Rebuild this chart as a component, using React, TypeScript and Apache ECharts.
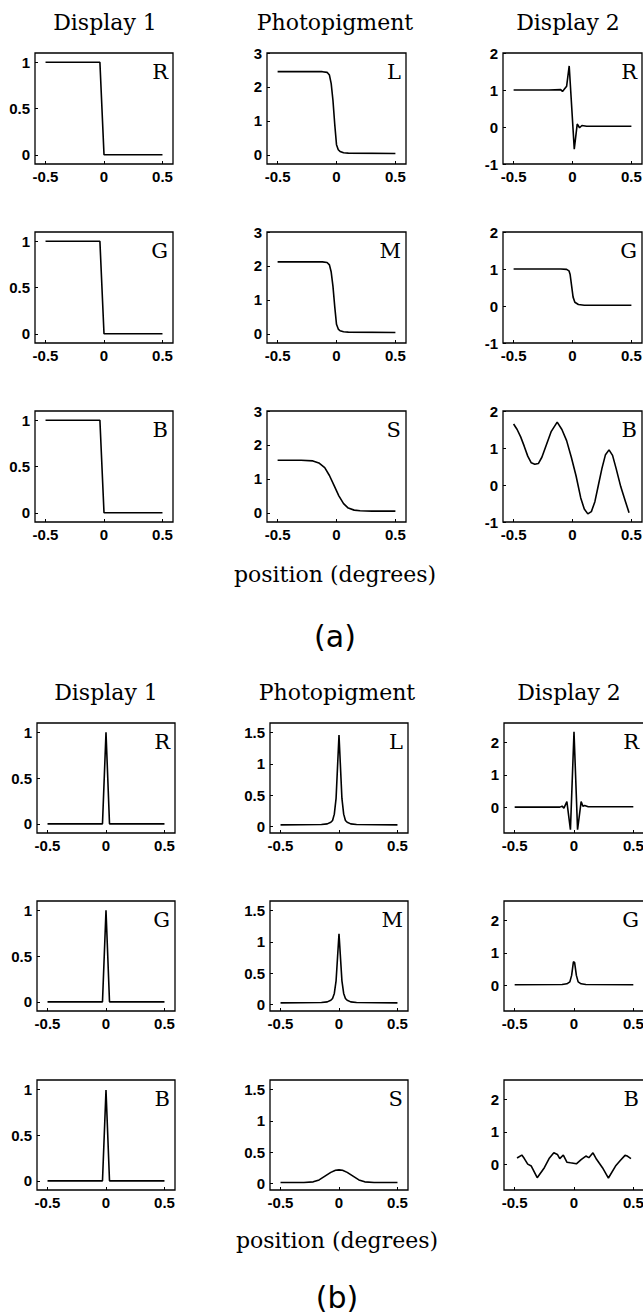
import React, { useEffect, useRef } from "react";
import * as echarts from "echarts";

type Pt = [number, number];

// ---------------- texts ----------------
const columnTitles = ["Display 1", "Photopigment", "Display 2"];
const rowLetters = [
  ["R", "L", "R"],
  ["G", "M", "G"],
  ["B", "S", "B"],
];
const xAxisCaption = "position (degrees)";
const partCaptions = ["(a)", "(b)"];

// ---------------- ticks & ranges ----------------
const xTickValues = [-0.5, 0, 0.5];
const xRange = [-0.59, 0.59];
const yTicksA = [
  [0, 0.5, 1],
  [0, 1, 2, 3],
  [-1, 0, 1, 2],
];
const yTicksB = [
  [0, 0.5, 1],
  [0, 0.5, 1, 1.5],
  [0, 1, 2],
];
const yRangesA = [
  [-0.1, 1.1],
  [-0.27, 3],
  [-1, 2],
];
const yRangesB = [
  [-0.1, 1.1],
  [-0.1, 1.65],
  [-0.8, 2.6],
];

// ---------------- (a) edge responses ----------------
const aDisplay1R: Pt[] = [[-0.5, 1], [-0.035, 1], [0, 0], [0.5, 0]];
const aDisplay1G: Pt[] = [[-0.5, 1], [-0.035, 1], [0, 0], [0.5, 0]];
const aDisplay1B: Pt[] = [[-0.5, 1], [-0.035, 1], [0, 0], [0.5, 0]];

const aPhotoL: Pt[] = [
  [-0.5, 2.45], [-0.12, 2.45], [-0.08, 2.43], [-0.06, 2.35], [-0.045, 2.1],
  [-0.03, 1.6], [-0.015, 0.9], [0, 0.3], [0.015, 0.15], [0.03, 0.1],
  [0.06, 0.06], [0.1, 0.05], [0.5, 0.04],
];
const aPhotoM: Pt[] = [
  [-0.5, 2.12], [-0.12, 2.12], [-0.08, 2.1], [-0.06, 2.03], [-0.045, 1.82],
  [-0.03, 1.4], [-0.015, 0.8], [0, 0.28], [0.015, 0.14], [0.03, 0.09],
  [0.06, 0.06], [0.1, 0.05], [0.5, 0.04],
];
const aPhotoS: Pt[] = [
  [-0.5, 1.55], [-0.3, 1.55], [-0.2, 1.53], [-0.15, 1.47], [-0.1, 1.33],
  [-0.06, 1.1], [-0.02, 0.8], [0.02, 0.5], [0.06, 0.27], [0.1, 0.14],
  [0.15, 0.08], [0.2, 0.06], [0.3, 0.05], [0.5, 0.05],
];

const aDisplay2R: Pt[] = [
  [-0.5, 1], [-0.2, 1], [-0.1, 1.01], [-0.085, 0.96], [-0.07, 1.02],
  [-0.05, 1.1], [-0.028, 1.65], [0.015, -0.6], [0.04, 0.08], [0.06, -0.02],
  [0.08, 0.04], [0.12, 0.02], [0.5, 0.02],
];
const aDisplay2G: Pt[] = [
  [-0.5, 1], [-0.1, 1], [-0.05, 0.99], [-0.03, 0.95], [-0.02, 0.85],
  [0.005, 0.24], [0.02, 0.1], [0.05, 0.04], [0.1, 0.02], [0.5, 0.02],
];
const aDisplay2B: Pt[] = [
  [-0.5, 1.65], [-0.47, 1.5], [-0.44, 1.3], [-0.41, 1.05], [-0.38, 0.78],
  [-0.35, 0.6], [-0.32, 0.56], [-0.29, 0.58], [-0.26, 0.75], [-0.22, 1.1],
  [-0.18, 1.45], [-0.13, 1.7], [-0.09, 1.5], [-0.05, 1.2], [-0.01, 0.75],
  [0.03, 0.25], [0.07, -0.35], [0.1, -0.65], [0.13, -0.78], [0.16, -0.72],
  [0.19, -0.45], [0.22, 0.0], [0.25, 0.45], [0.28, 0.82], [0.31, 0.95],
  [0.34, 0.8], [0.37, 0.45], [0.41, -0.05], [0.45, -0.45], [0.48, -0.75],
];

// ---------------- (b) line responses ----------------
const bDisplay1R: Pt[] = [[-0.5, 0], [-0.03, 0], [0, 1], [0.03, 0], [0.5, 0]];
const bDisplay1G: Pt[] = [[-0.5, 0], [-0.03, 0], [0, 1], [0.03, 0], [0.5, 0]];
const bDisplay1B: Pt[] = [[-0.5, 0], [-0.03, 0], [0, 0.99], [0.03, 0], [0.5, 0]];

const bPhotoL: Pt[] = [
  [-0.5, 0.03], [-0.15, 0.035], [-0.1, 0.045], [-0.07, 0.07], [-0.055, 0.1],
  [-0.04, 0.2], [-0.025, 0.45], [0, 1.46], [0.025, 0.45], [0.04, 0.2],
  [0.055, 0.1], [0.07, 0.07], [0.1, 0.045], [0.15, 0.035], [0.5, 0.03],
];
const bPhotoM: Pt[] = [
  [-0.5, 0.03], [-0.15, 0.035], [-0.1, 0.045], [-0.07, 0.07], [-0.055, 0.1],
  [-0.04, 0.18], [-0.025, 0.38], [0, 1.13], [0.025, 0.38], [0.04, 0.18],
  [0.055, 0.1], [0.07, 0.07], [0.1, 0.045], [0.15, 0.035], [0.5, 0.03],
];
const bPhotoS: Pt[] = [
  [-0.5, 0.02], [-0.3, 0.02], [-0.22, 0.03], [-0.17, 0.06], [-0.12, 0.12],
  [-0.07, 0.18], [-0.03, 0.215], [0, 0.22], [0.03, 0.215], [0.07, 0.18],
  [0.12, 0.12], [0.17, 0.06], [0.22, 0.03], [0.3, 0.02], [0.5, 0.02],
];

const bDisplay2R: Pt[] = [
  [-0.5, 0], [-0.12, 0], [-0.1, 0.03], [-0.085, -0.03], [-0.06, 0.17],
  [-0.03, -0.7], [0, 2.33], [0.03, -0.7], [0.06, 0.17], [0.075, 0.03],
  [0.09, 0.05], [0.12, 0.01], [0.5, 0.01],
];
const bDisplay2G: Pt[] = [
  [-0.5, 0.01], [-0.1, 0.02], [-0.06, 0.04], [-0.035, 0.1], [-0.02, 0.3],
  [-0.005, 0.72], [0.005, 0.7], [0.02, 0.3], [0.035, 0.1], [0.06, 0.04],
  [0.1, 0.02], [0.5, 0.01],
];
const bDisplay2B: Pt[] = [
  [-0.48, 0.19], [-0.44, 0.28], [-0.42, 0.18], [-0.39, 0.0], [-0.36, -0.06],
  [-0.31, -0.42], [-0.25, -0.11], [-0.21, 0.17], [-0.17, 0.35], [-0.14, 0.3],
  [-0.12, 0.17], [-0.09, 0.28], [-0.06, 0.06], [-0.03, 0.04], [0.02, 0.01],
  [0.06, 0.14], [0.1, 0.25], [0.125, 0.2], [0.16, 0.35], [0.19, 0.15],
  [0.24, -0.11], [0.29, -0.43], [0.35, -0.06], [0.39, 0.11], [0.43, 0.27],
  [0.45, 0.25], [0.48, 0.17],
];

const seriesA: Pt[][][] = [
  [aDisplay1R, aPhotoL, aDisplay2R],
  [aDisplay1G, aPhotoM, aDisplay2G],
  [aDisplay1B, aPhotoS, aDisplay2B],
];
const seriesB: Pt[][][] = [
  [bDisplay1R, bPhotoL, bDisplay2R],
  [bDisplay1G, bPhotoM, bDisplay2G],
  [bDisplay1B, bPhotoS, bDisplay2B],
];

// ---------------- layout ----------------
const parts = [
  {
    colLeft: [35, 267, 503],
    colWidth: [138, 139, 139],
    rowTop: [53, 232, 411],
    height: 111,
    titleX: [105, 335, 568],
    titleY: 22.5,
    captionX: 335,
    captionY: 574,
    partY: 636,
    yTicks: yTicksA,
    yRanges: yRangesA,
    data: seriesA,
  },
  {
    colLeft: [37, 270, 504],
    colWidth: [138, 138, 140],
    rowTop: [723, 901, 1080],
    height: 110,
    titleX: [106, 337, 569],
    titleY: 692.5,
    captionX: 337,
    captionY: 1240,
    partY: 1297,
    yTicks: yTicksB,
    yRanges: yRangesB,
    data: seriesB,
  },
];

const TICK_FONT = "'Liberation Sans', Arial, sans-serif";
const SERIF = "'DejaVu Serif', serif";

function buildOption() {
  const grid: any[] = [];
  const xAxis: any[] = [];
  const yAxis: any[] = [];
  const series: any[] = [];
  const graphic: any[] = [];

  parts.forEach((p, pi) => {
    for (let c = 0; c < 3; c++) {
      graphic.push({
        type: "text",
        x: p.titleX[c],
        y: p.titleY,
        style: {
          text: columnTitles[c],
          font: `22px ${SERIF}`,
          fill: "#000",
          align: "center",
          verticalAlign: "middle",
        },
      });
    }
    graphic.push({
      type: "text",
      x: p.captionX,
      y: p.captionY,
      style: {
        text: xAxisCaption,
        font: `22px ${SERIF}`,
        fill: "#000",
        align: "center",
        verticalAlign: "middle",
      },
    });
    graphic.push({
      type: "text",
      x: p.captionX,
      y: p.partY,
      style: {
        text: partCaptions[pi],
        font: `30px 'DejaVu Sans', sans-serif`,
        fill: "#000",
        align: "center",
        verticalAlign: "middle",
      },
    });

    for (let r = 0; r < 3; r++) {
      for (let c = 0; c < 3; c++) {
        const idx = grid.length;
        const left = p.colLeft[c];
        const top = p.rowTop[r];
        const width = p.colWidth[c];
        grid.push({
          left,
          top,
          width,
          height: p.height,
          show: true,
          borderColor: "#000",
          borderWidth: 1.3,
          backgroundColor: "transparent",
          containLabel: false,
          outerBoundsMode: "none",
        });
        xAxis.push({
          type: "value",
          gridIndex: idx,
          position: "bottom",
          min: xRange[0],
          max: xRange[1],
          axisLine: { show: false, onZero: false },
          splitLine: { show: false },
          axisTick: {
            show: true,
            inside: true,
            length: 3,
            customValues: xTickValues,
            lineStyle: { color: "#000", width: 1 },
          },
          axisLabel: {
            customValues: xTickValues,
            margin: 5,
            color: "#000",
            fontFamily: TICK_FONT,
            fontWeight: "bold",
            fontSize: 15,
          },
        });
        yAxis.push({
          type: "value",
          gridIndex: idx,
          position: "left",
          min: p.yRanges[c][0],
          max: p.yRanges[c][1],
          axisLine: { show: false, onZero: false },
          splitLine: { show: false },
          axisTick: {
            show: true,
            inside: true,
            length: 3,
            customValues: p.yTicks[c],
            lineStyle: { color: "#000", width: 1 },
          },
          axisLabel: {
            customValues: p.yTicks[c],
            margin: 5,
            color: "#000",
            fontFamily: TICK_FONT,
            fontWeight: "bold",
            fontSize: 15,
          },
        });
        series.push({
          type: "line",
          xAxisIndex: idx,
          yAxisIndex: idx,
          data: p.data[r][c],
          showSymbol: false,
          symbol: "none",
          smooth: false,
          clip: true,
          lineStyle: { color: "#000", width: 1.6 },
        });
        graphic.push({
          type: "text",
          x: left + width - 5,
          y: top + 18.5,
          style: {
            text: rowLetters[r][c],
            font: `21px ${SERIF}`,
            fill: "#000",
            align: "right",
            verticalAlign: "middle",
          },
        });
      }
    }
  });

  return {
    animation: false,
    backgroundColor: "#fff",
    grid,
    xAxis,
    yAxis,
    series,
    graphic,
  };
}

export default function App() {
  const ref = useRef<HTMLDivElement>(null);
  useEffect(() => {
    document.body.style.margin = "0";
    if (!ref.current) return;
    const chart = echarts.init(ref.current, undefined, { renderer: "svg" });
    chart.setOption(buildOption() as any);
    return () => chart.dispose();
  }, []);
  return <div ref={ref} style={{ width: 643, height: 1314, background: "#fff" }} />;
}
